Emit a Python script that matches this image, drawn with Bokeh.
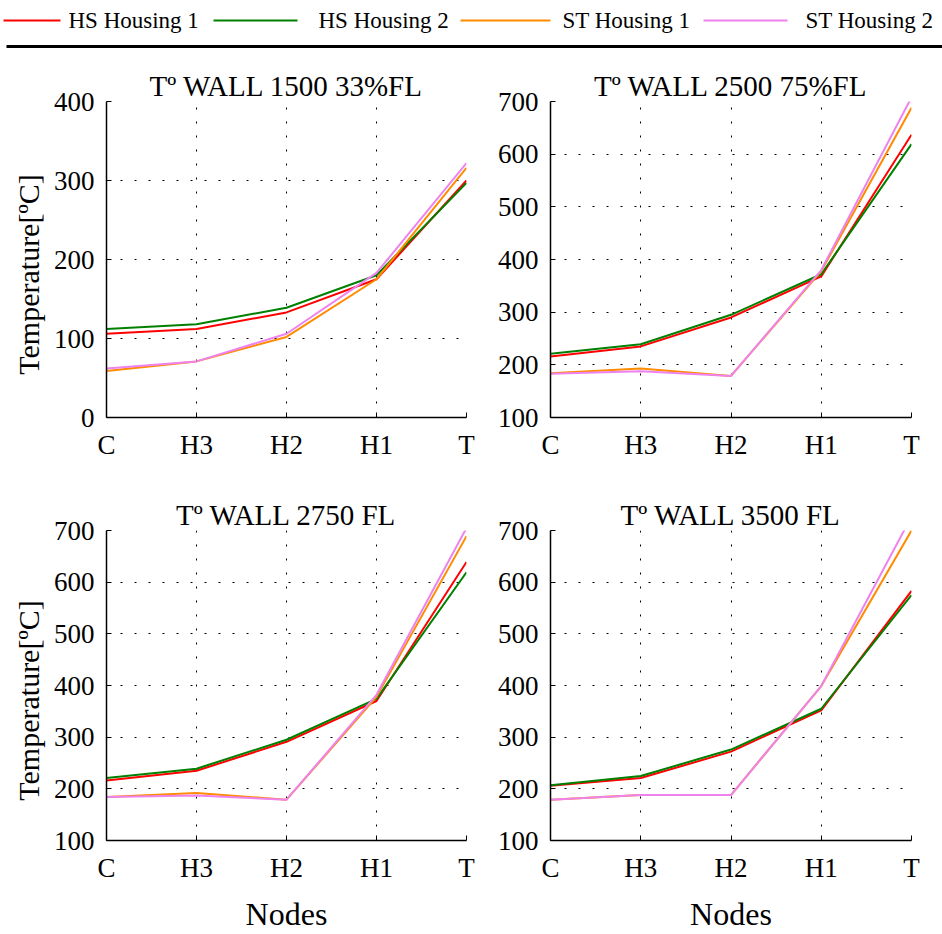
from bokeh.plotting import figure
from bokeh.layouts import column, row
from bokeh.models import Range1d, FixedTicker
from bokeh.core.properties import value
from bokeh.embed import file_html
from bokeh.resources import INLINE

# ---------------- data ----------------
nodes = ["C", "H3", "H2", "H1", "T"]
series_names = ["HS Housing 1", "HS Housing 2", "ST Housing 1", "ST Housing 2"]
colors = ["#ff0000", "#008000", "#ff8c00", "#ee82ee"]

titles = ["Tº WALL 1500 33%FL", "Tº WALL 2500 75%FL", "Tº WALL 2750 FL", "Tº WALL 3500 FL"]
y_label = "Temperature[ºC]"
x_label = "Nodes"

# panel 1: Tº WALL 1500 33%FL
p1_hs1 = [106, 112, 133, 175, 300]
p1_hs2 = [112, 118, 139, 180, 297]
p1_st1 = [59, 71, 102, 175, 316]
p1_st2 = [62, 71, 106, 183, 322]

# panel 2: Tº WALL 2500 75%FL
p2_hs1 = [216, 235, 290, 368, 637]
p2_hs2 = [221, 239, 295, 372, 619]
p2_st1 = [184, 193, 179, 378, 688]
p2_st2 = [183, 188, 179, 380, 708]

# panel 3: Tº WALL 2750 FL
p3_hs1 = [216, 235, 291, 370, 639]
p3_hs2 = [221, 239, 295, 374, 619]
p3_st1 = [184, 192, 179, 378, 689]
p3_st2 = [184, 187, 179, 382, 705]

# panel 4: Tº WALL 3500 FL
p4_hs1 = [206, 221, 272, 352, 583]
p4_hs2 = [207, 225, 276, 355, 575]
p4_st1 = [179, 188, 188, 399, 700]
p4_st2 = [179, 188, 188, 399, 727]

y_ticks_1 = [0, 100, 200, 300, 400]
y_ticks_2 = [100, 200, 300, 400, 500, 600, 700]

FONT = "'Liberation Serif', 'Times New Roman', Tinos, serif"


def make_panel(title, series, yticks, width, height, bl, br, bt, bb, ylabel=None, xlabel=None):
    xs = list(range(len(nodes)))
    p = figure(width=width, height=height,
               x_range=Range1d(xs[0], xs[-1]), y_range=Range1d(yticks[0], yticks[-1]),
               output_backend="svg", toolbar_location=None,
               min_border_left=bl, min_border_right=br, min_border_top=bt, min_border_bottom=bb)
    p.outline_line_color = None
    p.background_fill_color = "white"
    p.border_fill_color = "white"

    p.title.text = title
    p.title.text_font = FONT
    p.title.text_font_size = "29px"
    p.title.text_font_style = "normal"
    p.title.text_color = "black"
    p.title.align = "center"
    p.title.standoff = 0

    p.xaxis.ticker = FixedTicker(ticks=xs)
    p.xaxis.major_label_overrides = {i: n for i, n in enumerate(nodes)}
    p.yaxis.ticker = FixedTicker(ticks=yticks)
    for ax in (p.xaxis, p.yaxis):
        ax.axis_line_color = "black"
        ax.axis_line_width = 1.5
        ax.major_tick_in = 5
        ax.major_tick_out = 0
        ax.major_tick_line_color = "black"
        ax.minor_tick_line_color = None
        ax.major_label_text_font = FONT
        ax.major_label_text_font_size = "27px"
        ax.major_label_text_color = "black"
        ax.major_label_standoff = 12
        ax.axis_label_text_font = FONT
        ax.axis_label_text_font_style = "normal"
        ax.axis_label_text_color = "black"
    if ylabel:
        # trailing no-break spaces nudge the rotated label down to the frame centre
        p.yaxis.axis_label = ylabel + "\u00a0" * 4
        p.yaxis.axis_label_text_font_size = "30px"
        p.yaxis.axis_label_standoff = 6
    if xlabel:
        p.xaxis.axis_label = xlabel
        p.xaxis.axis_label_text_font_size = "32px"
        p.xaxis.axis_label_standoff = 10

    p.grid.grid_line_color = "black"
    p.grid.grid_line_dash = "2 12"
    p.grid.grid_line_width = 1
    p.grid.grid_line_alpha = 1.0

    for ys, c in zip(series, colors):
        p.line(xs, ys, line_color=c, line_width=2)
    return p


# legend strip
leg = figure(width=942, height=50, x_range=Range1d(0, 942), y_range=Range1d(50, 0),
             output_backend="svg", toolbar_location=None,
             x_axis_location=None, y_axis_location=None,
             min_border=0, min_border_left=0, min_border_right=0,
             min_border_top=0, min_border_bottom=0)
leg.outline_line_color = None
leg.grid.visible = False
leg_x0 = [3, 213, 460, 703]
leg_x1 = [60, 297, 550, 787]
leg_tx = [68, 318, 562, 805]
leg.segment(x0=leg_x0, y0=[20] * 4, x1=leg_x1, y1=[20] * 4, line_color=colors, line_width=2)
leg.text(x=leg_tx, y=[20] * 4, text=series_names, text_font=value(FONT),
         text_font_size="23px", text_baseline="middle", text_align="left", text_color="black")
leg.segment(x0=[6], y0=[46], x1=[942], y1=[46], line_color="black", line_width=3)

f1 = make_panel(titles[0], [p1_hs1, p1_hs2, p1_st1, p1_st2], y_ticks_1,
                492, 420, 106, 26, 51, 51, ylabel=y_label)
f2 = make_panel(titles[1], [p2_hs1, p2_hs2, p2_st1, p2_st2], y_ticks_2,
                450, 420, 58, 31, 47, 53)
f3 = make_panel(titles[2], [p3_hs1, p3_hs2, p3_st1, p3_st2], y_ticks_2,
                492, 464, 106, 26, 60, 86, ylabel=y_label, xlabel=x_label)
f4 = make_panel(titles[3], [p4_hs1, p4_hs2, p4_st1, p4_st2], y_ticks_2,
                450, 464, 58, 31, 60, 86, xlabel=x_label)

layout = column(leg, row(f1, f2), row(f3, f4))
open("out.html", "w").write(file_html(layout, INLINE))
